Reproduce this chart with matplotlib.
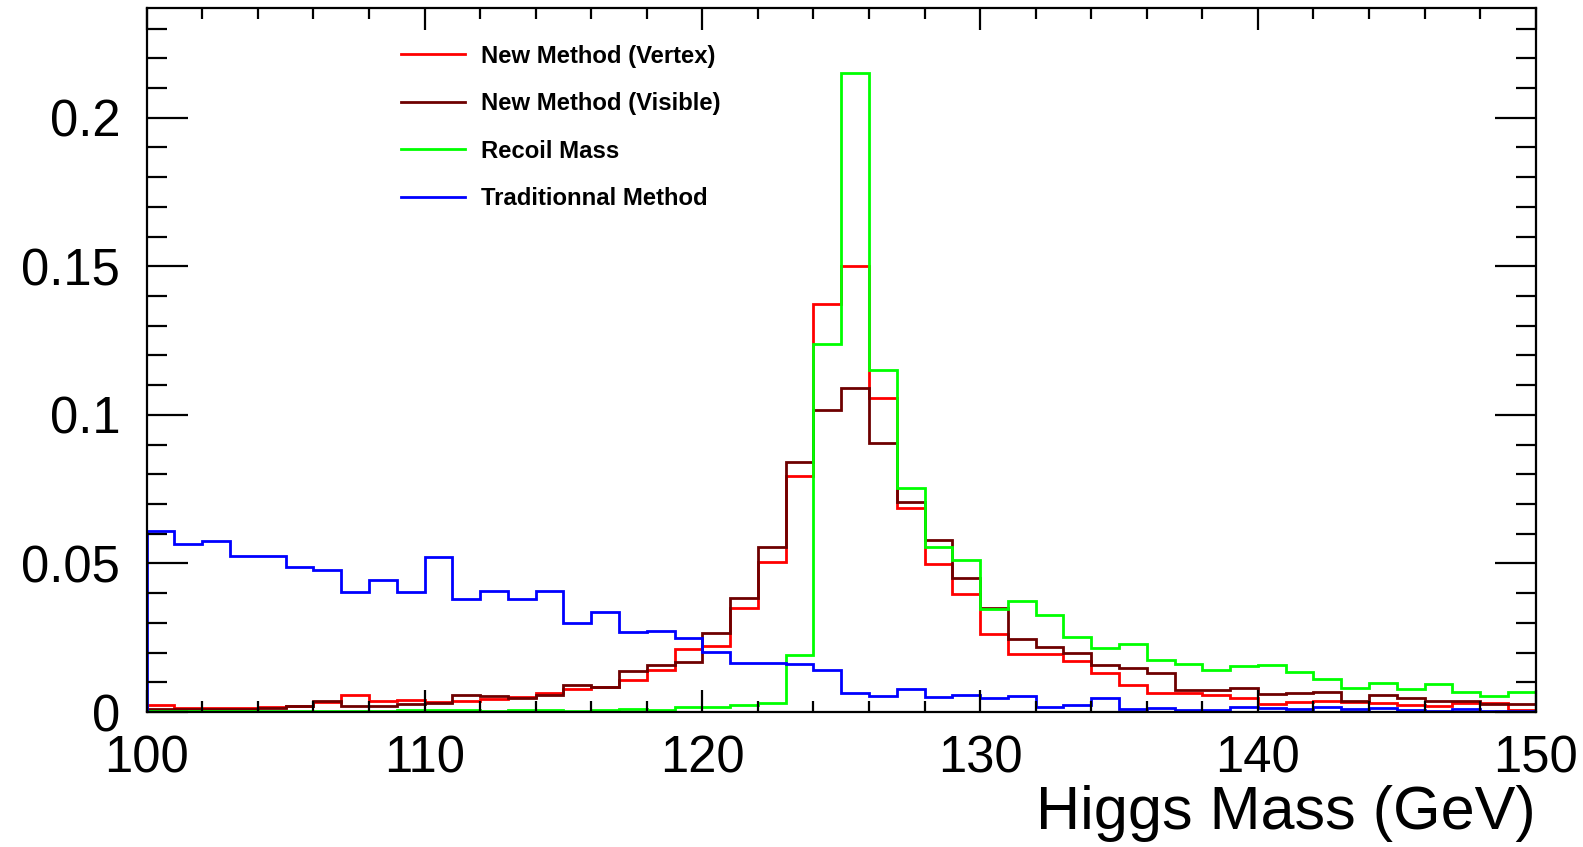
import numpy as np
import matplotlib
matplotlib.use("Agg")
import matplotlib.pyplot as plt
from matplotlib.ticker import MultipleLocator, FuncFormatter

plt.rcParams['font.family'] = ['Liberation Sans', 'DejaVu Sans']

# 1 GeV bins from 100 to 150 GeV
bin_edges = np.linspace(100, 150, 51)

# normalised entries per bin
vertex = [0.0022, 0.0015, 0.0015, 0.0015, 0.0017, 0.0020, 0.0034, 0.0058, 0.0036, 0.0039,
          0.0034, 0.0036, 0.0043, 0.0050, 0.0065, 0.0076, 0.0083, 0.0108, 0.0141, 0.0211,
          0.0223, 0.0349, 0.0506, 0.0795, 0.1372, 0.1500, 0.1055, 0.0685, 0.0498, 0.0397,
          0.0263, 0.0194, 0.0194, 0.0170, 0.0131, 0.0090, 0.0065, 0.0065, 0.0056, 0.0048,
          0.0028, 0.0034, 0.0036, 0.0034, 0.0030, 0.0022, 0.0020, 0.0030, 0.0030, 0.0008]

visible = [0.0011, 0.0011, 0.0011, 0.0011, 0.0015, 0.0020, 0.0036, 0.0020, 0.0020, 0.0028,
           0.0031, 0.0058, 0.0054, 0.0047, 0.0056, 0.0090, 0.0084, 0.0139, 0.0157, 0.0167,
           0.0267, 0.0385, 0.0554, 0.0840, 0.1016, 0.1091, 0.0906, 0.0705, 0.0578, 0.0452,
           0.0349, 0.0244, 0.0218, 0.0199, 0.0157, 0.0148, 0.0132, 0.0073, 0.0073, 0.0082,
           0.0062, 0.0065, 0.0067, 0.0037, 0.0056, 0.0047, 0.0037, 0.0037, 0.0028, 0.0028]

recoil = [0.0002, 0.0002, 0.0002, 0.0002, 0.0002, 0.0002, 0.0002, 0.0002, 0.0002, 0.0006,
          0.0006, 0.0006, 0.0002, 0.0006, 0.0006, 0.0002, 0.0006, 0.0010, 0.0007, 0.0016,
          0.0018, 0.0024, 0.0031, 0.0192, 0.1238, 0.2150, 0.1150, 0.0753, 0.0555, 0.0510,
          0.0347, 0.0375, 0.0328, 0.0252, 0.0216, 0.0230, 0.0176, 0.0162, 0.0140, 0.0155,
          0.0159, 0.0134, 0.0112, 0.0082, 0.0097, 0.0076, 0.0095, 0.0067, 0.0054, 0.0067]

traditional = [0.0609, 0.0565, 0.0575, 0.0526, 0.0526, 0.0487, 0.0478, 0.0405, 0.0444, 0.0405,
               0.0523, 0.0380, 0.0407, 0.0380, 0.0407, 0.0300, 0.0337, 0.0270, 0.0271, 0.0250,
               0.0201, 0.0164, 0.0164, 0.0160, 0.0143, 0.0063, 0.0054, 0.0078, 0.0049, 0.0057,
               0.0047, 0.0053, 0.0017, 0.0025, 0.0047, 0.0009, 0.0013, 0.0006, 0.0008, 0.0017,
               0.0015, 0.0009, 0.0017, 0.0009, 0.0013, 0.0006, 0.0002, 0.0009, 0.0003, 0.0003]

labels = ["New Method (Vertex)", "New Method (Visible)", "Recoil Mass", "Traditionnal Method"]
colors = ["#ff0000", "#6e0000", "#00ff00", "#0000ff"]

W, H = 1583, 847
fig = plt.figure(figsize=(W / 100, H / 100), dpi=100)
# axes frame in pixels: x 146.7..1535.7, y 8.3..712
ax = fig.add_axes([146.7 / W, 1 - 712 / H, (1535.7 - 146.7) / W, (712 - 8.3) / H])

for vals, lab, col in zip([vertex, visible, recoil, traditional], labels, colors):
    ax.stairs(vals, bin_edges, color=col, lw=2.0, label=lab)

ax.set_xlim(100, 150)
ax.set_ylim(0, 0.2368)

ax.xaxis.set_major_locator(MultipleLocator(10))
ax.xaxis.set_minor_locator(MultipleLocator(2))
ax.yaxis.set_major_locator(MultipleLocator(0.05))
ax.yaxis.set_minor_locator(MultipleLocator(0.01))
ax.yaxis.set_major_formatter(FuncFormatter(lambda v, p: "%g" % round(v, 3)))

ax.tick_params(axis='both', which='both', direction='in', top=True, right=True, width=1.6)
ax.tick_params(axis='x', which='major', length=15.5, pad=16, labelsize=36.5)
ax.tick_params(axis='x', which='minor', length=7.7)
ax.tick_params(axis='y', which='major', length=29.5, pad=19, labelsize=36.5)
ax.tick_params(axis='y', which='minor', length=14.4)
for s in ax.spines.values():
    s.set_linewidth(1.6)

ax.set_xlabel("Higgs Mass (GeV)", fontsize=44, ha='right')
ax.xaxis.set_label_coords(1.0, -(785 - 712) / (712 - 8.3))

ax.legend(loc='upper left', bbox_to_anchor=(400.7 / W, 1 - 44.5 / H),
          bbox_transform=fig.transFigure, frameon=False, borderpad=0, borderaxespad=0,
          handlelength=2.7, handletextpad=0.68, labelspacing=1.03,
          prop={'weight': 'bold', 'size': 17.2})

fig.savefig("out.png", dpi=100)
